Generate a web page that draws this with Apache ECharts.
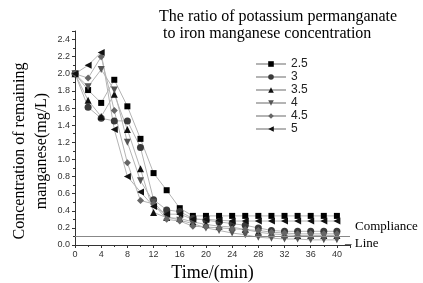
<!DOCTYPE html>
<html>
<head>
<meta charset="utf-8">
<script src="https://cdn.jsdelivr.net/npm/echarts@6/dist/echarts.min.js"></script>
<style>
  html, body { margin: 0; padding: 0; background: #fff; }
  #chart { width: 423px; height: 283px; }
</style>
</head>
<body>
<div id="chart"></div>
<script>
// time axis (min)
const times = [0, 2, 4, 6, 8, 10, 12, 14, 16, 18, 20, 22, 24, 26, 28, 30, 32, 34, 36, 38, 40]
const ratios = ['2.5', '3', '3.5', '4', '4.5', '5']

// remaining manganese (mg/L)
const r25 = [2.0, 1.81, 1.66, 1.93, 1.62, 1.24, 0.84, 0.64, 0.43, 0.34, 0.34, 0.34, 0.34, 0.34, 0.34, 0.34, 0.34, 0.34, 0.34, 0.34, 0.34]
const r3 = [2.0, 1.61, 1.48, 1.45, 1.45, 1.14, 0.53, 0.41, 0.39, 0.31, 0.29, 0.27, 0.25, 0.23, 0.2, 0.17, 0.16, 0.16, 0.16, 0.16, 0.16]
const r35 = [2.0, 1.69, 1.5, 1.76, 1.35, 0.89, 0.38, 0.32, 0.31, 0.27, 0.24, 0.22, 0.21, 0.18, 0.15, 0.13, 0.12, 0.11, 0.11, 0.11, 0.11]
const r4 = [2.0, 1.85, 2.05, 1.81, 1.2, 0.75, 0.5, 0.33, 0.29, 0.25, 0.2, 0.17, 0.14, 0.12, 0.09, 0.08, 0.07, 0.07, 0.06, 0.06, 0.06]
const r45 = [2.0, 1.95, 2.2, 1.57, 0.96, 0.52, 0.48, 0.3, 0.28, 0.22, 0.21, 0.2, 0.19, 0.18, 0.17, 0.15, 0.14, 0.13, 0.13, 0.13, 0.13]
const r5 = [2.0, 2.1, 2.25, 1.35, 0.8, 0.62, 0.45, 0.36, 0.36, 0.3, 0.3, 0.29, 0.28, 0.28, 0.28, 0.28, 0.28, 0.28, 0.28, 0.28, 0.28]

const compliance = 0.1

const chart = echarts.init(document.getElementById('chart'))

function makeSeries(name, values, symbol, rotate, color) {
  return {
    name: name,
    type: 'line',
    data: times.map((t, i) => [t, values[i]]),
    symbol: symbol,
    symbolRotate: rotate,
    symbolSize: symbol === 'rect' ? 6 : 7,
    lineStyle: { color: '#b4b4b4', width: 1 },
    itemStyle: { color: color },
    animation: false
  }
}

const series = [
  makeSeries(ratios[0], r25, 'rect', 0, '#000'),
  makeSeries(ratios[1], r3, 'circle', 0, '#3a3a3a'),
  makeSeries(ratios[2], r35, 'triangle', 0, '#111'),
  makeSeries(ratios[3], r4, 'triangle', 180, '#555'),
  makeSeries(ratios[4], r45, 'diamond', 0, '#666'),
  makeSeries(ratios[5], r5, 'triangle', 90, '#111')
]
series[0].markLine = {
  silent: true,
  symbol: 'none',
  lineStyle: { color: '#888', width: 1, type: 'solid' },
  label: { show: false },
  data: [{ yAxis: compliance }]
}

chart.setOption({
  animation: false,
  title: {
    text: 'The ratio of potassium permanganate\n to iron manganese concentration',
    left: 154,
    top: 3,
    textStyle: { fontFamily: 'Liberation Serif', fontSize: 16, fontWeight: 'normal', color: '#000', lineHeight: 17 }
  },
  legend: {
    orient: 'vertical',
    left: 250,
    top: 53,
    itemGap: 1,
    itemWidth: 30,
    itemHeight: 7,
    textStyle: { fontFamily: 'Liberation Sans', fontSize: 12, color: '#222' },
    data: ratios
  },
  grid: { left: 75, right: 73, top: 31, bottom: 38, outerBoundsMode: 'none' },
  xAxis: {
    type: 'value',
    min: 0,
    max: 42,
    interval: 4,
    name: 'Time/(min)',
    nameLocation: 'middle',
    nameGap: 19,
    nameTextStyle: { fontFamily: 'Liberation Serif', fontSize: 18, color: '#000' },
    axisLine: { lineStyle: { color: '#333' } },
    axisTick: { inside: false, length: 3, lineStyle: { color: '#333' } },
    minorTick: { show: true, splitNumber: 2, length: 2, lineStyle: { color: '#333' } },
    axisLabel: { fontSize: 9, color: '#333', margin: 5, showMaxLabel: false },
    splitLine: { show: false }
  },
  yAxis: {
    type: 'value',
    min: 0,
    max: 2.5,
    interval: 0.2,
    axisLine: { show: true, lineStyle: { color: '#333' } },
    axisTick: { length: 3, lineStyle: { color: '#333' } },
    minorTick: { show: true, splitNumber: 2, length: 2, lineStyle: { color: '#333' } },
    axisLabel: {
      fontSize: 9,
      color: '#333',
      margin: 5,
      showMaxLabel: false,
      formatter: v => v.toFixed(1)
    },
    splitLine: { show: false }
  },
  graphic: [
    {
      type: 'text',
      x: 31,
      y: 151,
      rotation: Math.PI / 2,
      style: {
        text: 'Concentration of remaining\nmanganese(mg/L)',
        fontFamily: 'Liberation Serif',
        fontSize: 16,
        lineHeight: 22,
        fill: '#000',
        align: 'center',
        verticalAlign: 'middle'
      }
    },
    {
      type: 'text',
      left: 355,
      top: 220,
      style: { text: 'Compliance', fontFamily: 'Liberation Serif', fontSize: 13, fill: '#000' }
    },
    {
      type: 'text',
      left: 345,
      top: 237,
      style: { text: '– Line', fontFamily: 'Liberation Serif', fontSize: 13, fill: '#000' }
    }
  ],
  series: series
})
</script>
</body>
</html>
